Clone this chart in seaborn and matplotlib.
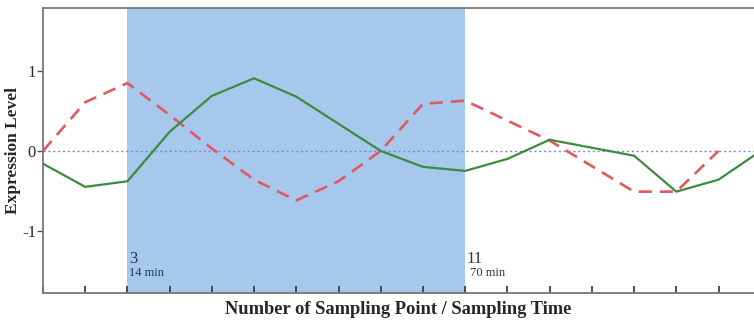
"""Expression profile of two genes across sampling points."""

import matplotlib
matplotlib.use('Agg')
import matplotlib.pyplot as plt
import seaborn as sns
import numpy as np
import pandas as pd

sns.set_style('white')
plt.rcParams['font.family'] = ['Liberation Serif', 'DejaVu Serif']

# sampling points 1..18
points = list(range(1, 19))
green_vals = [-0.16, -0.45, -0.38, 0.24, 0.69, 0.91, 0.68, 0.34, 0.0,
              -0.20, -0.25, -0.10, 0.14, 0.04, -0.06, -0.51, -0.36, 0.0]
red_points = list(range(1, 18))
red_vals = [0.0, 0.61, 0.85, 0.45, 0.03, -0.36, -0.62, -0.38, 0.0,
            0.59, 0.63, 0.38, 0.13, -0.19, -0.51, -0.51, 0.0]

window = [3, 11]
window_labels = ['3', '11']
window_times = ['14 min', '70 min']

green_df = pd.DataFrame({'point': points, 'level': green_vals})
red_df = pd.DataFrame({'point': red_points, 'level': red_vals})

fig = plt.figure(figsize=(7.54, 3.22), dpi=100)
ax = fig.add_axes([0.057, 0.09, 0.943, 0.885])

ax.axvspan(window[0], window[1], color='#a7c8ed', lw=0, zorder=0)
ax.axhline(0, color='#7f86c8', linestyle=(0, (1.5, 2)), lw=1.0, zorder=1)

sns.lineplot(data=green_df, x='point', y='level', ax=ax, color='#3d8b3d',
             lw=1.6, zorder=3)
sns.lineplot(data=red_df, x='point', y='level', ax=ax, color='#e0595f',
             lw=1.9, linestyle=(0, (5, 3)), zorder=2)

for xp, lab, tm in zip(window, window_labels, window_times):
    ax.text(xp + 0.03, -1.36, lab, fontsize=12, color='#2b3550',
            ha='left', va='center')
    ax.text(xp + (0.03 if xp == 3 else 0.12), -1.53, tm, fontsize=9,
            color='#2b3550', ha='left', va='center')

ax.set_xlim(1, 17.84)
ax.set_ylim(-1.78, 1.79)
ax.set_xticks(points[:-1])
ax.set_xticklabels([])
ax.set_yticks([-1, 0, 1])
ax.set_yticklabels(['-1', '0', '1'], fontsize=12)
ax.tick_params(axis='x', direction='in', length=5, width=1.2, color='#333333',
               bottom=True)
ax.tick_params(axis='y', direction='out', length=4, width=1.0, color='#555555',
               left=True, pad=1)

for side in ['left', 'bottom', 'top']:
    ax.spines[side].set_color('#777777')
    ax.spines[side].set_linewidth(1.3)
ax.spines['right'].set_visible(False)

ax.set_xlabel('Number of Sampling Point / Sampling Time', fontsize=13.3,
              fontweight='bold', labelpad=2)
ax.set_ylabel('Expression Level', fontsize=12.5, fontweight='bold', labelpad=1)

fig.savefig('out.png', dpi=100)
plt.close(fig)
